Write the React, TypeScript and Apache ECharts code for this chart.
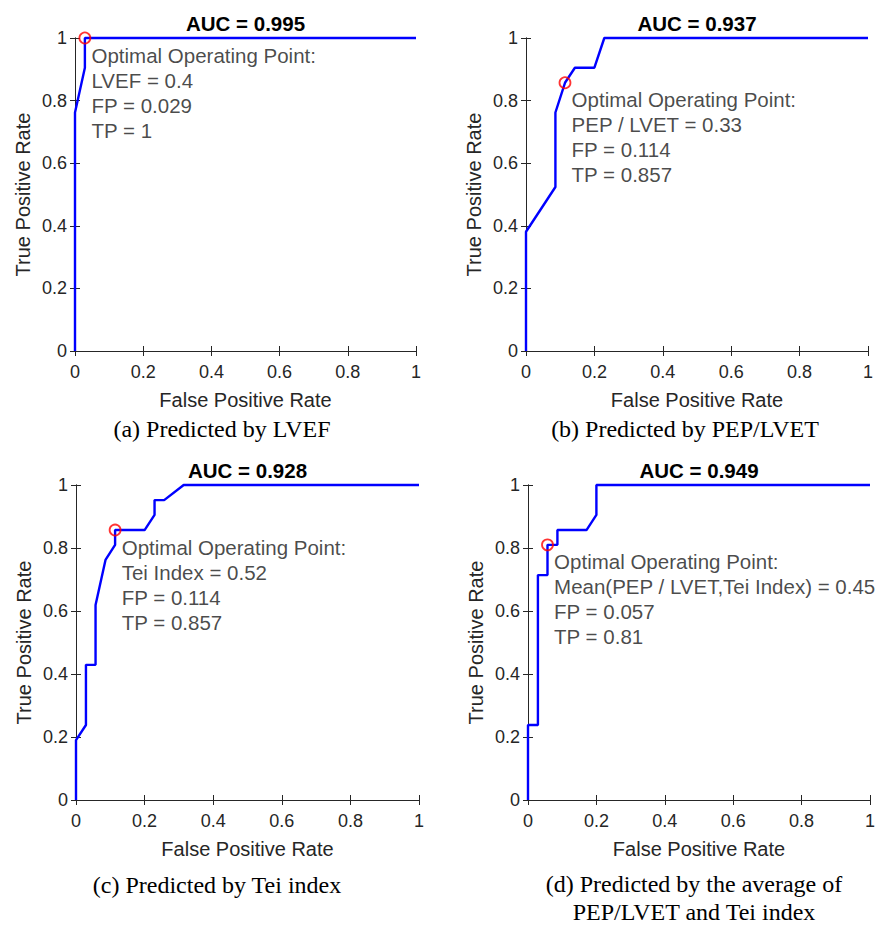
import React, { useEffect, useRef } from "react";
import * as echarts from "echarts";

// ---- data ----
const fprLVEF = [0, 0, 0.029, 0.029, 1];
const tprLVEF = [0, 0.762, 0.905, 1, 1];
const optLVEF = [0.029, 1];

const fprPEP = [0, 0, 0.086, 0.086, 0.114, 0.143, 0.2, 0.229, 1];
const tprPEP = [0, 0.381, 0.524, 0.762, 0.857, 0.905, 0.905, 1, 1];
const optPEP = [0.114, 0.857];

const fprTei = [0, 0, 0.029, 0.029, 0.057, 0.057, 0.086, 0.114, 0.114, 0.2, 0.229, 0.229, 0.257, 0.314, 1];
const tprTei = [0, 0.19, 0.238, 0.429, 0.429, 0.619, 0.762, 0.81, 0.857, 0.857, 0.905, 0.952, 0.952, 1, 1];
const optTei = [0.114, 0.857];

const fprMean = [0, 0, 0.029, 0.029, 0.057, 0.057, 0.086, 0.086, 0.171, 0.2, 0.2, 1];
const tprMean = [0, 0.238, 0.238, 0.714, 0.714, 0.81, 0.81, 0.857, 0.857, 0.905, 1, 1];
const optMean = [0.057, 0.81];

const aucTitles = ["AUC = 0.995", "AUC = 0.937", "AUC = 0.928", "AUC = 0.949"];
const notes = [
  ["Optimal Operating Point:", "LVEF = 0.4", "FP = 0.029", "TP = 1"],
  ["Optimal Operating Point:", "PEP / LVET = 0.33", "FP = 0.114", "TP = 0.857"],
  ["Optimal Operating Point:", "Tei Index = 0.52", "FP = 0.114", "TP = 0.857"],
  ["Optimal Operating Point:", "Mean(PEP / LVET,Tei Index) = 0.45", "FP = 0.057", "TP = 0.81"],
];
const captions = [
  ["(a) Predicted by LVEF"],
  ["(b) Predicted by PEP/LVET"],
  ["(c) Predicted by Tei index"],
  ["(d) Predicted by the average of", "PEP/LVET and Tei index"],
];
const xAxisName = "False Positive Rate";
const yAxisName = "True Positive Rate";

// ---- layout ----
const grids = [
  { left: 75, top: 38, width: 341, height: 313 },
  { left: 526, top: 38, width: 342, height: 313 },
  { left: 76, top: 485, width: 343, height: 315 },
  { left: 528, top: 485, width: 342, height: 315 },
];
const captionPos = [
  { x: 222, y: 429 },
  { x: 685, y: 429 },
  { x: 217, y: 885 },
  { x: 694, y: 884 },
];

const SANS = 'Arial, "Liberation Sans", Helvetica, sans-serif';
const SERIF = '"Times New Roman", "Liberation Serif", Times, serif';
const AX = "#262626";

export default function App() {
  const ref = useRef<HTMLDivElement>(null);
  useEffect(() => {
    if (!ref.current) return;
    const chart = echarts.init(ref.current, undefined, { renderer: "svg" });
    const curves = [
      [fprLVEF, tprLVEF, optLVEF],
      [fprPEP, tprPEP, optPEP],
      [fprTei, tprTei, optTei],
      [fprMean, tprMean, optMean],
    ] as number[][][];

    const xAxes: any[] = [];
    const yAxes: any[] = [];
    const series: any[] = [];
    const graphics: any[] = [];

    grids.forEach((g, i) => {
      const base = {
        type: "value",
        min: 0,
        max: 1,
        interval: 0.2,
        gridIndex: i,
        splitLine: { show: false },
        axisLine: { show: true, lineStyle: { color: AX, width: 1 } },
        axisTick: { show: true, inside: true, length: 5, lineStyle: { color: AX } },
      };
      xAxes.push({
        ...base,
        position: "bottom",
        name: xAxisName,
        nameLocation: "middle",
        nameGap: 39,
        nameTextStyle: { fontFamily: SANS, fontSize: 20, color: AX },
        axisLabel: { show: true, fontFamily: SANS, fontSize: 18, color: AX, margin: 12 },
      });
      xAxes.push({ ...base, position: "top", axisLabel: { show: false } });
      yAxes.push({
        ...base,
        position: "left",
        name: yAxisName,
        nameLocation: "middle",
        nameGap: 42,
        nameRotate: 90,
        nameTextStyle: { fontFamily: SANS, fontSize: 20, color: AX },
        axisLabel: { show: true, fontFamily: SANS, fontSize: 18, color: AX, margin: 8 },
      });
      yAxes.push({ ...base, position: "right", axisLabel: { show: false } });

      const [fpr, tpr, opt] = curves[i];
      series.push({
        type: "line",
        xAxisIndex: i * 2,
        yAxisIndex: i * 2,
        data: fpr.map((x, k) => [x, tpr[k]]),
        showSymbol: false,
        symbol: "none",
        clip: false,
        lineStyle: { color: "#0000ff", width: 2.4 },
        z: 3,
      });
      series.push({
        type: "scatter",
        xAxisIndex: i * 2,
        yAxisIndex: i * 2,
        data: [opt],
        symbol: "circle",
        symbolSize: 11,
        clip: false,
        itemStyle: { color: "rgba(0,0,0,0)", borderColor: "#ff0000", borderWidth: 1.8 },
        label: {
          show: true,
          position: [13, 11],
          align: "left",
          verticalAlign: "top",
          formatter: notes[i].join("\n"),
          fontFamily: SANS,
          fontSize: 20.5,
          lineHeight: 25,
          color: "#1a1a1a",
        },
        z: 4,
      });

      graphics.push({
        type: "text",
        x: g.left + g.width / 2,
        y: g.top - 15,
        style: {
          text: aucTitles[i],
          font: `bold 20.5px ${SANS}`,
          fill: "#000",
          textAlign: "center",
          textVerticalAlign: "middle",
        },
      });
      captions[i].forEach((line, k) => {
        graphics.push({
          type: "text",
          x: captionPos[i].x,
          y: captionPos[i].y + k * 28,
          style: {
            text: line,
            font: `24px ${SERIF}`,
            fill: "#000",
            textAlign: "center",
            textVerticalAlign: "middle",
          },
        });
      });
    });

    chart.setOption({
      animation: false,
      backgroundColor: "#ffffff",
      grid: grids.map((g) => ({ ...g, containLabel: false })),
      xAxis: xAxes.map((a, idx) => ({ ...a, gridIndex: Math.floor(idx / 2) })),
      yAxis: yAxes.map((a, idx) => ({ ...a, gridIndex: Math.floor(idx / 2) })),
      series,
      graphic: graphics,
    });
    return () => chart.dispose();
  }, []);

  return (
    <div
      ref={ref}
      style={{ position: "absolute", left: 0, top: 0, width: 878, height: 925, background: "#fff" }}
    />
  );
}
